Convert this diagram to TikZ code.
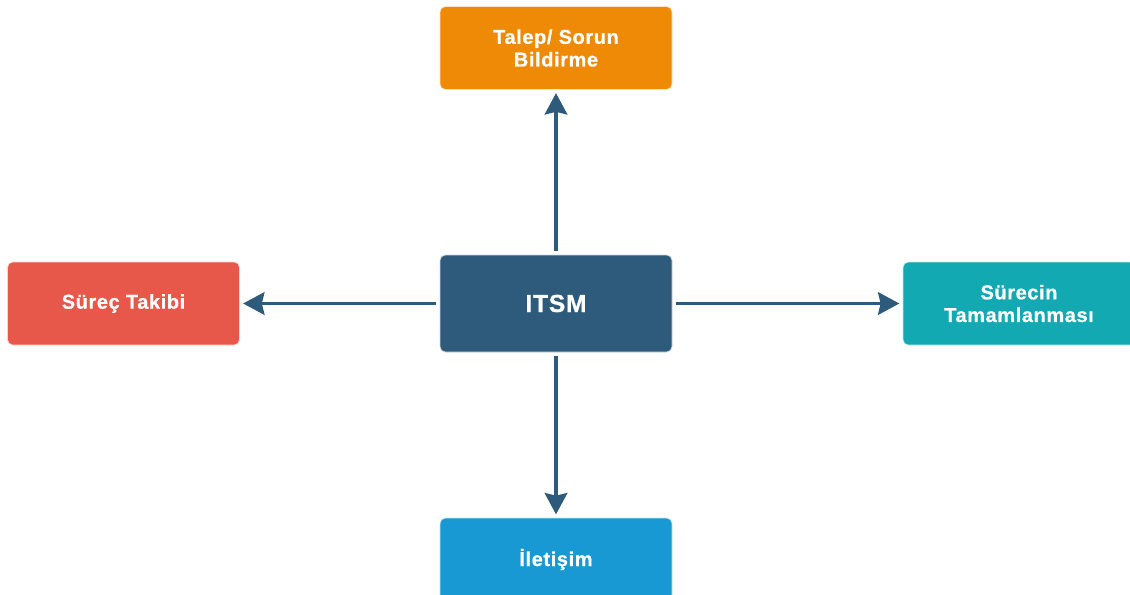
\documentclass[tikz,border=0pt]{standalone}
\usepackage{fontspec}
\setmainfont{Liberation Sans}
\usetikzlibrary{arrows.meta}
\definecolor{cOrange}{HTML}{EF8A07}
\definecolor{cRed}{HTML}{E8584A}
\definecolor{cTeal}{HTML}{13A9B3}
\definecolor{cDark}{HTML}{2E5B7C}
\definecolor{cBlue}{HTML}{1899D3}
\newfontfamily\boxfont[LetterSpace=3,FakeBold=0.6]{Liberation Sans Bold}
\tikzset{
  box/.style={rounded corners=4pt, minimum width=232*0.75pt, minimum height=83*0.75pt,
    inner sep=0pt, text=white, align=center,
    font=\boxfont\fontsize{15pt}{17pt}\selectfont, draw=white!75!#1, line width=0.5pt, fill=#1},
  conn/.style={draw=cDark, line width=2.3pt,
    -{Stealth[length=16pt,width=17pt,inset=2pt]}, shorten <=2.5pt, shorten >=2.5pt}
}
\begin{document}
\begin{tikzpicture}[x=0.75pt,y=-0.75pt]
\useasboundingbox (0,0) rectangle (1130,594);
\clip (0,0) rectangle (1130,594);
\node[box=cDark, minimum height=97*0.75pt, font=\boxfont\fontsize{18.5pt}{20pt}\selectfont] (itsm) at (556,303.5) {ITSM};
\node[box=cOrange] (talep) at (556,48) {Talep/ Sorun\\Bildirme};
\node[box=cRed] (takip) at (123.5,303.5) {Süreç Takibi};
\node[box=cTeal] (tamam) at (1019,303.5) {Sürecin\\Tamamlanması};
\node[box=cBlue] (ilet) at (556,559.5) {İletişim};
\draw[conn] (itsm.north) -- (talep.south);
\draw[conn] (itsm.west) -- (takip.east);
\draw[conn] (itsm.east) -- (tamam.west);
\draw[conn] (itsm.south) -- (ilet.north);
\end{tikzpicture}
\end{document}
